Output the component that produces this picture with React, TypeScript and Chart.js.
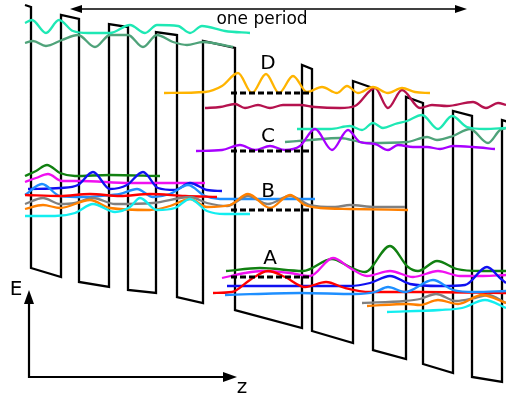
import React, { useEffect, useRef } from "react";
import { Chart, registerables } from "chart.js";

Chart.register(...registerables);

type Pt = [number, number];

const bandEdge: Pt[] = [
  [25, 5], [31, 7], [31, 268], [61, 277], [61, 15], [79, 19], [79, 282], [109, 287], [109, 24], [128, 27],
  [128, 290], [156, 293], [156, 32], [177, 35], [177, 297], [203, 303], [203, 41], [235, 48], [235, 310],
  [302, 328], [302, 65], [312, 69], [312, 331], [353, 343], [353, 81], [373, 88], [373, 350], [406, 359],
  [406, 97], [423, 103], [423, 364], [453, 373], [453, 111], [472, 116], [472, 377], [502, 382], [502, 120],
  [508, 122],
];

const tealUpper: Pt[] = [
  [25, 23], [32, 20], [46, 33], [59, 20], [73, 31], [88, 33], [110, 33], [130, 25], [145, 33], [157, 25],
  [178, 26], [190, 33], [202, 26], [225, 31], [250, 33],
];
const seaGreenUpper: Pt[] = [
  [25, 43], [33, 41], [46, 46], [62, 40], [78, 35], [95, 47], [110, 35], [128, 35], [143, 47], [157, 35],
  [173, 42], [187, 45], [203, 42], [233, 47],
];
const goldD: Pt[] = [
  [164, 93], [205, 92], [222, 86], [238, 73], [252, 93], [266, 74], [279, 93], [293, 76], [307, 92], [322, 87],
  [337, 93], [347, 86], [358, 93], [373, 87], [388, 93], [402, 88], [415, 92], [430, 93],
];
const crimson: Pt[] = [
  [205, 108], [220, 107], [235, 104], [245, 108], [258, 105], [270, 108], [283, 105], [300, 105], [315, 107],
  [340, 108], [355, 106], [375, 88], [388, 108], [402, 90], [420, 108], [432, 105], [447, 106], [473, 102],
  [486, 108], [498, 103], [506, 105],
];
const purpleC: Pt[] = [
  [196, 151], [222, 150], [240, 145], [255, 150], [270, 146], [285, 150], [300, 146], [315, 129], [332, 150],
  [348, 130], [360, 142], [375, 144], [388, 150], [398, 145], [413, 147], [427, 147], [440, 149], [453, 146],
  [473, 147], [495, 149],
];
const tealLower: Pt[] = [
  [297, 129], [330, 129], [350, 126], [362, 130], [373, 123], [383, 128], [395, 124], [407, 121], [422, 115],
  [438, 129], [452, 116], [467, 127], [485, 129], [506, 128],
];
const seaGreenLower: Pt[] = [
  [285, 142], [310, 140], [340, 138], [367, 143], [407, 142], [427, 137], [437, 140], [453, 136], [470, 129],
  [488, 143], [500, 130], [506, 128],
];

const green1: Pt[] = [[25, 176], [36, 171], [47, 165], [60, 173], [75, 176], [110, 175], [160, 176]];
const magenta1: Pt[] = [[25, 182], [36, 178], [48, 174], [62, 181], [80, 181], [130, 183], [205, 183]];
const blue1: Pt[] = [
  [28, 189], [60, 188], [78, 185], [93, 172], [110, 189], [127, 185], [143, 172], [158, 188], [175, 190],
  [190, 183], [207, 190], [222, 191],
];
const lightBlue1: Pt[] = [
  [25, 195], [42, 184], [60, 196], [85, 197], [100, 196], [120, 194], [137, 189], [153, 197], [170, 194],
  [188, 185], [205, 196], [220, 199], [260, 199], [315, 199],
];
const red1: Pt[] = [[25, 195], [60, 196], [90, 194], [120, 196], [150, 194], [185, 196], [217, 197]];
const gray1: Pt[] = [
  [25, 204], [43, 198], [60, 204], [75, 203], [93, 198], [115, 204], [153, 203], [190, 197], [207, 203],
  [227, 206], [248, 196], [268, 204], [290, 196], [310, 205], [335, 207], [350, 205], [375, 207], [405, 207],
];
const orange1: Pt[] = [
  [25, 209], [43, 205], [60, 208], [90, 200], [110, 208], [150, 210], [170, 206], [190, 199], [207, 207],
  [230, 205], [248, 194], [270, 208], [290, 195], [305, 205], [320, 208], [350, 209], [408, 210],
];
const cyan1: Pt[] = [
  [25, 216], [55, 216], [75, 213], [93, 204], [115, 212], [130, 207], [140, 198], [157, 210], [175, 208],
  [190, 199], [207, 211], [225, 214], [250, 214],
];

const green2: Pt[] = [
  [226, 271], [260, 268], [303, 271], [332, 259], [350, 267], [365, 272], [390, 246], [408, 267], [418, 271],
  [437, 261], [457, 269], [480, 271], [506, 271],
];
const magenta2: Pt[] = [
  [222, 278], [245, 273], [262, 271], [290, 273], [310, 276], [333, 258], [350, 268], [367, 276], [390, 271],
  [413, 277], [438, 271], [460, 276], [483, 276], [506, 275],
];
const blue2: Pt[] = [
  [227, 286], [300, 286], [350, 286], [370, 283], [390, 276], [410, 284], [440, 286], [465, 285], [487, 267],
  [500, 278], [506, 283],
];
const red2: Pt[] = [
  [213, 293], [232, 292], [250, 280], [268, 271], [285, 277], [305, 287], [326, 282], [345, 288], [370, 292],
  [420, 292], [506, 293],
];
const lightBlue2: Pt[] = [
  [225, 295], [300, 293], [355, 294], [375, 292], [388, 287], [405, 292], [433, 280], [453, 290], [475, 292],
  [506, 291],
];
const gray2: Pt[] = [[362, 303], [405, 301], [420, 299], [436, 294], [456, 301], [475, 298], [488, 295], [506, 303]];
const orange2: Pt[] = [[367, 306], [408, 304], [420, 305], [438, 300], [458, 304], [482, 295], [506, 303]];
const cyan2: Pt[] = [[387, 312], [440, 310], [462, 308], [485, 300], [506, 308]];

const levelD: Pt[] = [[231, 93], [311, 93]];
const levelC: Pt[] = [[231, 151], [311, 151]];
const levelB: Pt[] = [[231, 210], [311, 210]];
const levelA: Pt[] = [[231, 277], [311, 277]];

const eAxis: Pt[] = [[29, 378], [29, 298]];
const zAxis: Pt[] = [[29, 377], [229, 377]];
const periodSpan: Pt[] = [[76, 9], [461, 9]];

const labels = ["one period", "D", "C", "B", "A", "E", "z"];

const TEXT_LAYOUT = [
  { x: 262, y: 24, size: 17 },
  { x: 268, y: 69, size: 20 },
  { x: 268, y: 142, size: 20 },
  { x: 268, y: 197, size: 20 },
  { x: 270, y: 264, size: 20 },
  { x: 16, y: 295, size: 20 },
  { x: 242, y: 393, size: 20 },
];

const xy = (pts: Pt[]) => pts.map(([x, y]) => ({ x, y }));

function arrowImg(len: number, wid: number) {
  const c = document.createElement("canvas");
  c.width = len;
  c.height = wid;
  const g = c.getContext("2d")!;
  g.fillStyle = "#000";
  g.beginPath();
  g.moveTo(0, 0);
  g.lineTo(len, wid / 2);
  g.lineTo(0, wid);
  g.closePath();
  g.fill();
  return c;
}

const textPlugin = {
  id: "diagramTexts",
  afterDatasetsDraw(chart: any) {
    const { ctx, scales } = chart;
    ctx.save();
    ctx.fillStyle = "#000";
    ctx.textAlign = "center";
    ctx.textBaseline = "alphabetic";
    labels.forEach((t, i) => {
      const L = TEXT_LAYOUT[i];
      ctx.font = `${L.size}px "DejaVu Sans"`;
      ctx.fillText(t, scales.x.getPixelForValue(L.x), scales.y.getPixelForValue(L.y));
    });
    ctx.restore();
  },
};

export default function App() {
  const ref = useRef<HTMLCanvasElement>(null);
  useEffect(() => {
    const axisHead = arrowImg(14, 10);
    const spanHead = arrowImg(12, 8);
    const wave = (pts: Pt[], color: string) => ({
      data: xy(pts),
      showLine: true,
      borderColor: color,
      borderWidth: 2.3,
      pointRadius: 0,
      cubicInterpolationMode: "monotone" as const,
      fill: false,
      order: 10,
    });
    const straight = (pts: Pt[], width: number, dash: number[] = [], order = 1) => ({
      data: xy(pts),
      showLine: true,
      borderColor: "#000",
      borderWidth: width,
      borderDash: dash,
      pointRadius: 0,
      tension: 0,
      fill: false,
      order,
    });
    const head = (x: number, y: number, rot: number, img: HTMLCanvasElement) => ({
      data: [{ x, y }],
      showLine: false,
      pointStyle: img,
      pointRotation: rot,
      pointRadius: 6,
      order: 0,
    });
    const chart = new Chart(ref.current!, {
      type: "scatter",
      data: {
        datasets: [
          straight(bandEdge, 2.3, [], 100) as any,
          wave(tealUpper, "#1ee8b4"),
          wave(seaGreenUpper, "#4fa37a"),
          wave(goldD, "#ffb400"),
          wave(crimson, "#b5124e"),
          wave(purpleC, "#a800ff"),
          wave(tealLower, "#1ee8b4"),
          wave(seaGreenLower, "#4fa37a"),
          wave(cyan1, "#12eef0"),
          wave(orange1, "#ff8000"),
          wave(gray1, "#808080"),
          wave(red1, "#ff0000"),
          wave(lightBlue1, "#1e8fff"),
          wave(blue1, "#1010f0"),
          wave(magenta1, "#f010f0"),
          wave(green1, "#118011"),
          wave(cyan2, "#12eef0"),
          wave(orange2, "#ff8000"),
          wave(gray2, "#808080"),
          wave(lightBlue2, "#1e8fff"),
          wave(red2, "#ff0000"),
          wave(blue2, "#1010f0"),
          wave(magenta2, "#f010f0"),
          wave(green2, "#118011"),
          straight(levelD, 3, [6, 3]),
          straight(levelC, 3, [6, 3]),
          straight(levelB, 3, [6, 3]),
          straight(levelA, 3, [6, 3]),
          straight(eAxis, 2.2),
          straight(zAxis, 2.2),
          straight(periodSpan, 1.6),
          head(29, 297, -90, axisHead),
          head(230, 377, 0, axisHead),
          head(76, 9, 180, spanHead),
          head(461, 9, 0, spanHead),
        ],
      },
      options: {
        responsive: false,
        animation: false,
        devicePixelRatio: 1,
        events: [],
        layout: { padding: 0, autoPadding: false },
        plugins: { legend: { display: false }, tooltip: { enabled: false } },
        scales: {
          x: { type: "linear", min: 0, max: 506, display: false },
          y: { type: "linear", min: 0, max: 398, reverse: true, display: false },
        },
      },
      plugins: [textPlugin],
    });
    return () => chart.destroy();
  }, []);
  return (
    <div style={{ position: "absolute", left: 0, top: 0, width: 506, height: 398, background: "#fff" }}>
      <canvas ref={ref} width={506} height={398} style={{ display: "block" }} />
    </div>
  );
}
